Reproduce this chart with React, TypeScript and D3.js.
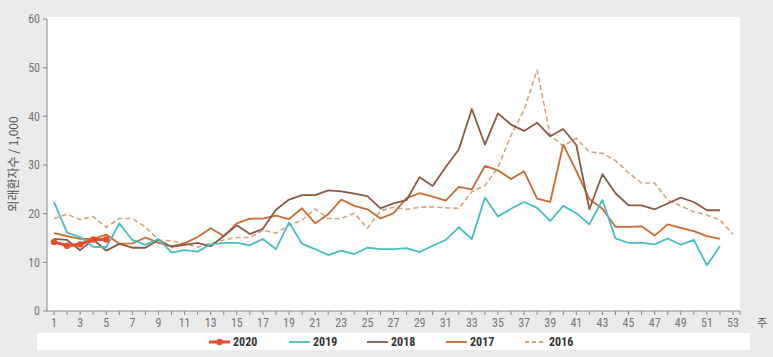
import React from "react";
import * as d3 from "d3";

const weeks = d3.range(1, 54);
const xTickLabels = d3.range(1, 54, 2);
const yTicks = [0, 10, 20, 30, 40, 50, 60];

const s2020 = [14.2, 13.4, 13.7, 14.7, 14.7];
const s2019 = [22.4, 16.1, 15.2, 13.2, 13.1, 18.0, 14.6, 13.6, 14.8, 12.0, 12.5, 12.2, 13.7, 14.0, 14.0, 13.5, 14.8, 12.7, 18.2, 13.8, 12.7, 11.5, 12.4, 11.7, 13.0, 12.7, 12.7, 12.9, 12.1, 13.4, 14.6, 17.2, 14.8, 23.3, 19.4, 21.0, 22.4, 21.2, 18.5, 21.6, 20.1, 17.8, 22.8, 14.9, 14.0, 14.0, 13.7, 14.9, 13.6, 14.6, 9.4, 13.3];
const s2018 = [14.8, 14.6, 12.5, 14.7, 12.4, 13.8, 13.0, 13.0, 14.6, 13.2, 13.6, 14.0, 13.3, 15.4, 17.6, 15.8, 16.9, 20.8, 22.9, 23.8, 23.8, 24.8, 24.6, 24.1, 23.6, 21.1, 22.1, 22.8, 27.5, 25.7, 29.6, 33.2, 41.5, 34.2, 40.6, 38.3, 37.0, 38.7, 35.9, 37.4, 34.1, 20.9, 28.1, 24.2, 21.7, 21.7, 20.9, 22.1, 23.3, 22.4, 20.7, 20.7];
const s2017 = [16.0, 15.4, 14.8, 14.8, 15.7, 13.8, 13.9, 15.1, 14.0, 13.3, 13.9, 15.2, 17.0, 15.4, 18.0, 19.0, 19.0, 19.6, 18.9, 21.1, 18.0, 19.9, 22.9, 21.6, 20.9, 19.0, 20.1, 23.2, 24.2, 23.5, 22.7, 25.5, 25.0, 29.8, 28.9, 27.1, 28.7, 23.1, 22.4, 34.2, 28.8, 23.0, 21.0, 17.3, 17.3, 17.4, 15.5, 17.8, 17.1, 16.4, 15.4, 14.8];
const s2016 = [19.0, 19.9, 18.8, 19.4, 17.2, 19.0, 19.0, 17.3, 14.6, 14.4, 13.9, 13.1, 13.9, 14.6, 15.1, 15.1, 16.6, 16.0, 17.6, 18.7, 21.0, 19.0, 19.0, 20.1, 17.0, 20.6, 21.3, 20.9, 21.3, 21.4, 21.2, 21.1, 24.5, 25.8, 29.5, 36.1, 41.3, 49.5, 36.1, 33.9, 35.5, 32.7, 32.4, 30.9, 28.4, 26.3, 26.3, 22.8, 21.6, 20.4, 19.7, 18.7, 15.8];

const seriesNames = ["2020", "2019", "2018", "2017", "2016"];

type Series = { name: string; values: number[]; color: string; width: number; dash?: string; markers?: boolean };

const series: Series[] = [
  { name: "2016", values: s2016, color: "#d6a47c", width: 1.6, dash: "5,3" },
  { name: "2017", values: s2017, color: "#cc6a30", width: 1.8 },
  { name: "2018", values: s2018, color: "#8c5a44", width: 1.8 },
  { name: "2019", values: s2019, color: "#45bfc0", width: 1.8 },
  { name: "2020", values: s2020, color: "#ef4a2f", width: 3, markers: true },
];

const W = 773;
const H = 357;
const plotLeft = 47;
const plotRight = 740;
const plotTop = 17;
const plotBottom = 311;

const numFont = "'Liberation Sans Narrow', 'Roboto Condensed', Roboto, sans-serif";

export default function App() {
  const x = d3.scaleLinear().domain([1, 53]).range([54, 733]);
  const y = d3.scaleLinear().domain([0, 60]).range([plotBottom, 19]);
  const line = d3
    .line<number>()
    .x((_, i) => x(i + 1))
    .y((d) => y(d));

  const legendX = [209, 289, 367, 446, 525];
  const byName = new Map(series.map((s) => [s.name, s]));

  return (
    <svg
      width={W}
      height={H}
      style={{ position: "absolute", left: 0, top: 0, display: "block" }}
    >
      <rect x={0} y={0} width={W} height={H} fill="#ebebeb" />
      <rect x={plotLeft} y={plotTop} width={plotRight - plotLeft} height={plotBottom - plotTop} fill="#ffffff" />

      {/* y axis */}
      <line x1={plotLeft} x2={plotLeft} y1={19} y2={plotBottom} stroke="#8a8a8a" strokeWidth={1} />
      {yTicks.map((t) => (
        <g key={t}>
          <line x1={plotLeft - 4} x2={plotLeft} y1={y(t)} y2={y(t)} stroke="#8a8a8a" />
          <text
            x={plotLeft - 7}
            y={y(t)}
            dy="0.35em"
            textAnchor="end"
            fontFamily={numFont}
            fontSize={12}
            fill="#777"
          >
            {t}
          </text>
        </g>
      ))}
      <text
        transform={`translate(14,${(plotTop + plotBottom) / 2}) rotate(-90)`}
        textAnchor="middle"
        dy="0.35em"
        fontFamily="'Noto Sans CJK KR', 'Noto Sans', sans-serif"
        fontSize={12}
        fill="#555"
      >
        외래환자수 / 1,000
      </text>

      {/* x axis */}
      <line x1={plotLeft} x2={plotRight} y1={plotBottom} y2={plotBottom} stroke="#8a8a8a" />
      {weeks.map((w) => (
        <line key={w} x1={x(w)} x2={x(w)} y1={plotBottom} y2={plotBottom + 4} stroke="#8a8a8a" />
      ))}
      <line x1={plotRight} x2={plotRight} y1={plotBottom} y2={plotBottom + 4} stroke="#8a8a8a" />
      {xTickLabels.map((w) => (
        <text
          key={w}
          x={x(w)}
          y={plotBottom + 16}
          textAnchor="middle"
          fontFamily={numFont}
          fontSize={12}
          fill="#777"
        >
          {w}
        </text>
      ))}
      <text
        x={757}
        y={plotBottom + 16}
        fontFamily="'Noto Sans CJK KR', sans-serif"
        fontSize={11}
        fill="#555"
      >
        주
      </text>

      {/* series */}
      {series.map((s) => (
        <g key={s.name}>
          <path
            d={line(s.values) || ""}
            fill="none"
            stroke={s.color}
            strokeWidth={s.width}
            strokeDasharray={s.dash}
            strokeLinejoin="round"
          />
          {s.markers &&
            s.values.map((v, i) => (
              <circle key={i} cx={x(i + 1)} cy={y(v)} r={3.2} fill={s.color} />
            ))}
        </g>
      ))}

      {/* legend */}
      <rect x={37} y={333} width={713} height={17} fill="#ffffff" />
      {seriesNames.map((n, i) => {
        const s = byName.get(n)!;
        const lx = legendX[i];
        return (
          <g key={n}>
            <line
              x1={lx}
              x2={lx + 21}
              y1={342}
              y2={342}
              stroke={s.color}
              strokeWidth={s.markers ? 3 : 1.8}
              strokeDasharray={s.dash ? "4,3" : undefined}
            />
            {s.markers && <circle cx={lx + 10.5} cy={342} r={3.2} fill={s.color} />}
            <text
              x={lx + 24}
              y={342}
              dy="0.35em"
              fontFamily={numFont}
              fontSize={12}
              fontWeight="bold"
              fill="#333"
            >
              {n}
            </text>
          </g>
        );
      })}
    </svg>
  );
}
